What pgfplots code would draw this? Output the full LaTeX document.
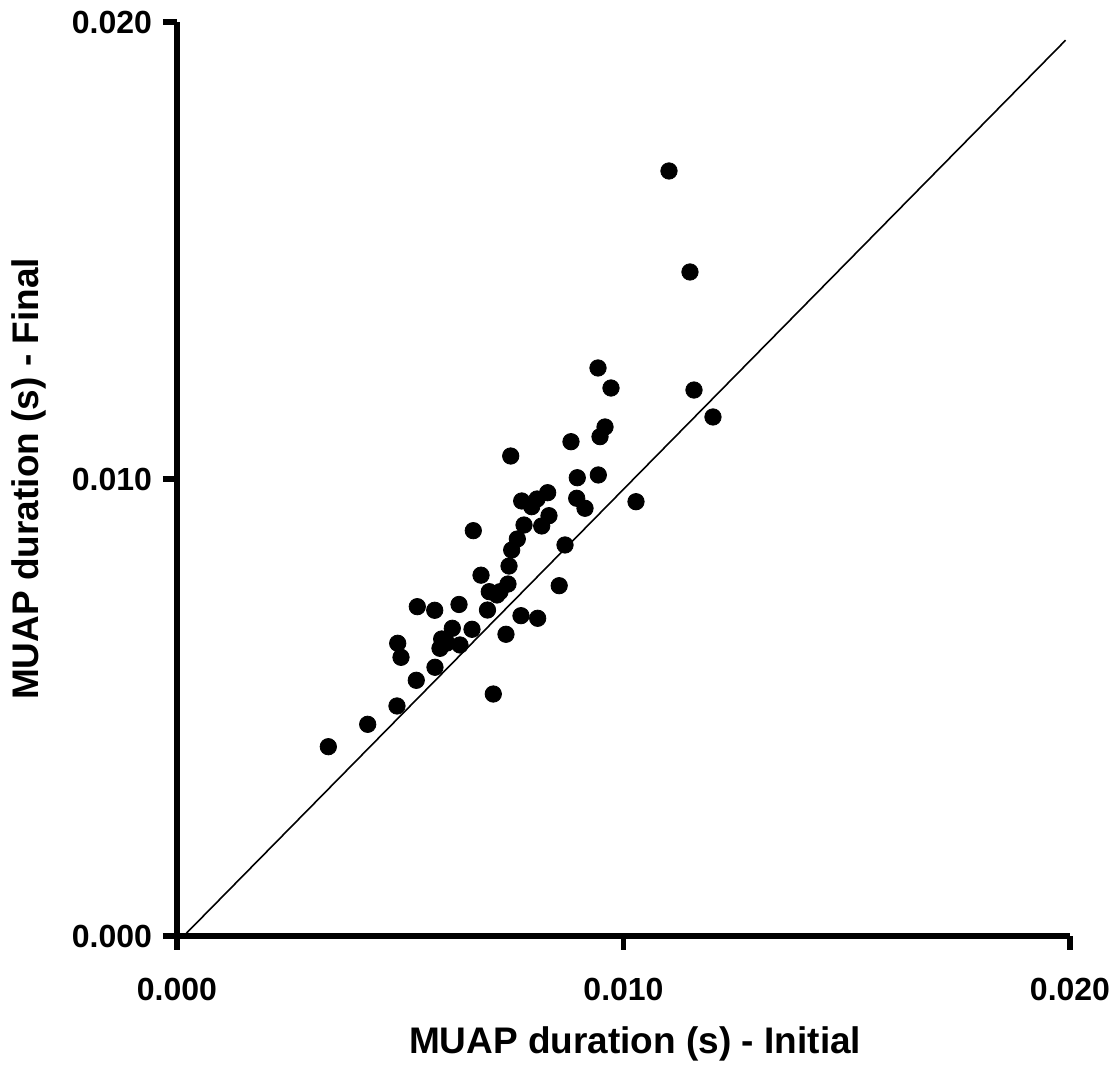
\documentclass[border=0pt]{standalone}
\usepackage{fontspec}
\setmainfont{Liberation Sans}
\usepackage{pgfplots}
\pgfplotsset{compat=1.18}
\usepackage{pgfplotstable}
\pgfplotstableread{
x y
0.003389 0.004142
0.004271 0.004632
0.004927 0.005033
0.004943 0.006405
0.005017 0.006098
0.005359 0.005595
0.005382 0.007206
0.005772 0.007127
0.005778 0.005880
0.005928 0.006499
0.005890 0.006295
0.006047 0.006411
0.006166 0.006733
0.006316 0.007254
0.006338 0.006368
0.006607 0.006711
0.006636 0.008869
0.006809 0.007895
0.006954 0.007133
0.006994 0.007534
0.007084 0.005295
0.007167 0.007462
0.007234 0.007534
0.007368 0.006602
0.007413 0.007702
0.007436 0.008096
0.007474 0.010503
0.007496 0.008446
0.007622 0.008687
0.007704 0.007009
0.007720 0.009519
0.007772 0.008993
0.007944 0.009394
0.008063 0.009562
0.008078 0.006952
0.008168 0.008972
0.008302 0.009700
0.008331 0.009197
0.008560 0.007665
0.008690 0.008556
0.008824 0.010816
0.008952 0.009578
0.008965 0.010028
0.009138 0.009359
0.009429 0.012429
0.009436 0.010088
0.009474 0.010926
0.009586 0.011138
0.009720 0.011991
0.010280 0.009503
0.011019 0.016740
0.011489 0.014530
0.011579 0.011947
0.012004 0.011357
}\pts
\begin{document}
\begin{tikzpicture}
\begin{axis}[
  name=ax,
  scale only axis,
  width=446.5pt, height=457pt,
  xmin=0, xmax=0.020, ymin=0, ymax=0.020,
  axis lines=left,
  axis line style={-, line width=2.8pt, black},
  every outer x axis line/.append style={-},
  every outer y axis line/.append style={-},
  scaled ticks=false,
  xtick={0,0.01,0.02}, ytick={0,0.01,0.02},
  xticklabels={\textbf{0.000},\textbf{0.010},\textbf{0.020}},
  yticklabels={\textbf{0.000},\textbf{0.010},\textbf{0.020}},
  minor tick num=0,
  tick align=outside,
  major tick length=7pt,
  tick style={line width=2.6pt, black},
  ticklabel style={font=\fontsize{16}{19}\selectfont},
  xticklabel style={yshift=-10.5pt},
  yticklabel style={xshift=-2pt},
  xlabel={\textbf{MUAP duration (s) - Initial}},
  ylabel={\textbf{MUAP duration (s) - Final}},
  label style={font=\fontsize{18.5}{22}\selectfont},
  xlabel style={at={(axis description cs:0.513,-0.118)}, anchor=center},
  ylabel style={at={(axis description cs:-0.166,0.5)}, anchor=center},
  clip=false,
]
\addplot[line width=0.8pt, black, no marks] coordinates {(0.00015,0) (0.0199,0.0196)};
\addplot[only marks, mark=*, mark size=4.1pt, black, mark options={fill=black, draw=black}] table[x=x,y=y] {\pts};
\end{axis}
\pgfresetboundingbox
\path[use as bounding box] ([shift={(-88.5pt,-69.5pt)}]ax.south west) rectangle ([shift={(469.5pt,468pt)}]ax.south west);
\end{tikzpicture}
\end{document}
